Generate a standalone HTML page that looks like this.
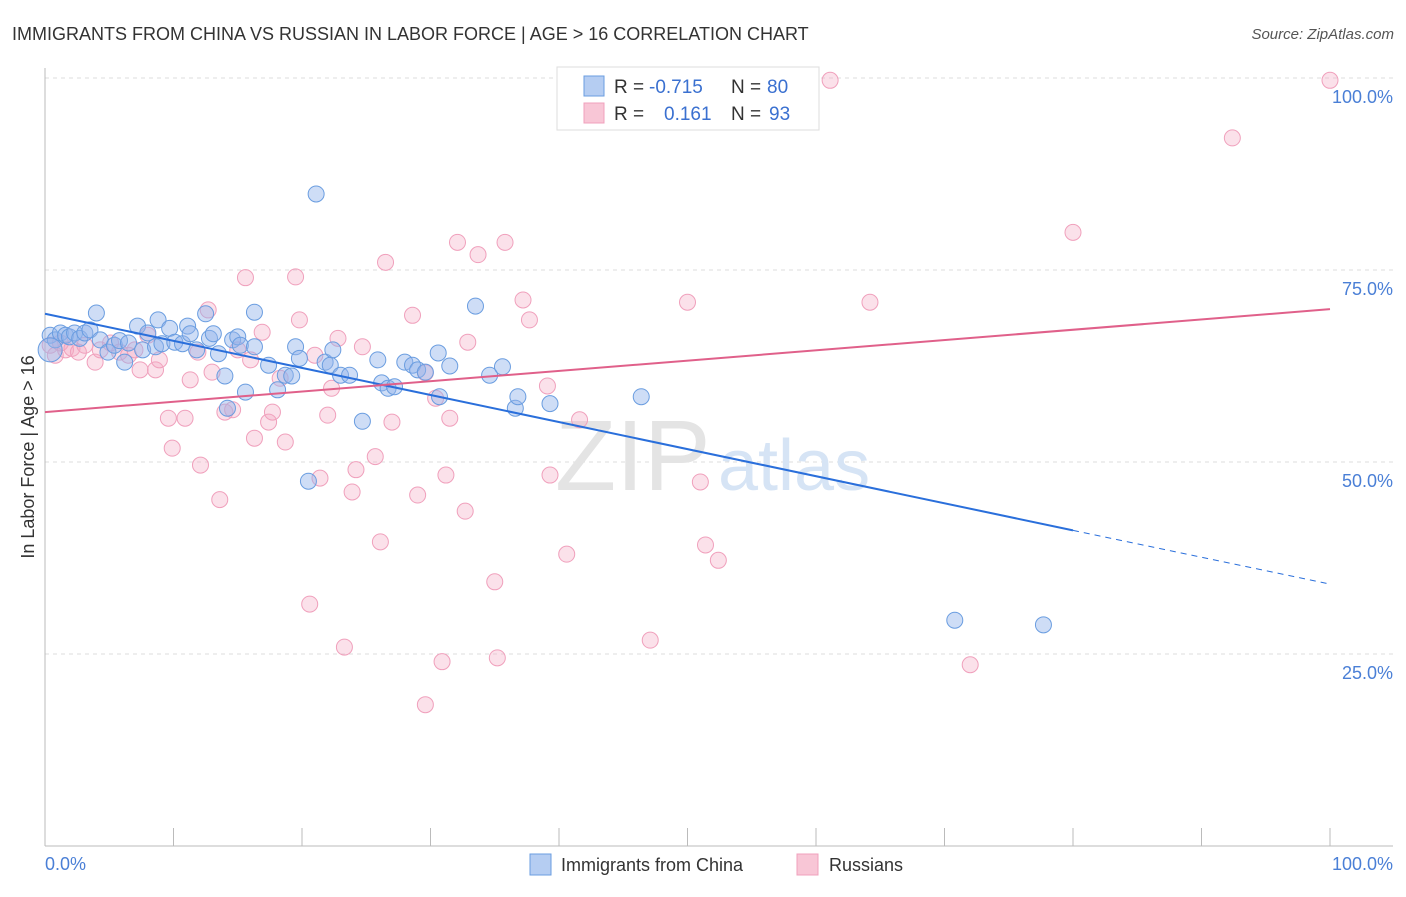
<!DOCTYPE html>
<html><head><meta charset="utf-8"><style>
body{margin:0;background:#fff;font-family:"Liberation Sans",sans-serif}
svg text{font-family:"Liberation Sans",sans-serif}
</style></head><body>
<svg id="chart" width="1406" height="892" viewBox="0 0 1406 892">
<text x="12" y="40" font-size="18" fill="#333">IMMIGRANTS FROM CHINA VS RUSSIAN IN LABOR FORCE | AGE &gt; 16 CORRELATION CHART</text>
<text x="1394" y="39" font-size="15" fill="#555" text-anchor="end" font-style="italic">Source: ZipAtlas.com</text>
<g id="grid"></g>
<g id="axes"></g>
<text x="555" y="490" font-size="100" fill="#e4e4e4" font-family="Liberation Serif">ZIP</text>
<text x="718" y="490" font-size="72" fill="#d6e4f5">atlas</text>
<g id="pts"></g>
<g id="lines"></g>
<text transform="translate(34,457) rotate(-90)" font-size="18" fill="#333" text-anchor="middle">In Labor Force | Age &gt; 16</text>
<text x="45" y="870" font-size="18" fill="#4a7fd6">0.0%</text>
<text x="1393" y="870" font-size="18" fill="#4a7fd6" text-anchor="end">100.0%</text>
<g>
<rect x="557" y="67" width="262" height="63" fill="#fff" stroke="#ddd"/>
<rect x="584" y="76" width="20" height="20" fill="#b5cdf2" stroke="#6a9de0"/>
<rect x="584" y="103" width="20" height="20" fill="#f8c6d6" stroke="#f0a0bc"/>
<text x="614" y="93" font-size="19" fill="#333">R =</text>
<text x="649" y="93" font-size="19" fill="#3a70d0">-0.715</text>
<text x="731" y="93" font-size="19" fill="#333">N =</text>
<text x="767" y="93" font-size="19" fill="#3a70d0">80</text>
<text x="614" y="120" font-size="19" fill="#333">R =</text>
<text x="664" y="120" font-size="19" fill="#3a70d0">0.161</text>
<text x="731" y="120" font-size="19" fill="#333">N =</text>
<text x="769" y="120" font-size="19" fill="#3a70d0">93</text>
</g>
<g>
<rect x="530" y="854" width="21" height="21" fill="#b5cdf2" stroke="#6a9de0"/>
<text x="561" y="871" font-size="18" fill="#333">Immigrants from China</text>
<rect x="797" y="854" width="21" height="21" fill="#f8c6d6" stroke="#f0a0bc"/>
<text x="829" y="871" font-size="18" fill="#333">Russians</text>
</g>
</svg>
<script>
const blueX=[0.4,0.8,1.2,1.6,1.9,2.3,2.7,3.1,3.5,4.0,4.3,4.9,5.4,5.8,6.2,6.5,7.2,7.6,8.0,8.6,8.8,9.1,9.7,10.1,10.7,11.1,11.3,11.8,12.5,12.8,13.1,13.5,14.0,14.6,15.0,15.2,15.6,16.3,16.3,17.4,18.1,18.7,19.2,19.5,19.8,20.5,21.1,21.8,22.2,22.4,23.0,23.7,24.7,25.9,26.2,26.7,27.2,28.0,28.6,29.0,29.6,30.6,30.7,31.5,33.5,34.6,35.6,36.6,36.8,39.3,46.4,70.8,77.7,14.2,0.4];
const blueY=[66.5,65.9,66.8,66.5,66.3,66.8,66.1,66.8,67.2,69.4,65.9,64.3,65.2,65.8,63.0,65.5,67.7,64.6,66.8,65.0,68.5,65.4,67.4,65.6,65.4,67.7,66.7,64.6,69.3,66.1,66.7,64.1,61.2,65.9,66.3,65.2,59.1,69.5,65.0,62.6,59.4,61.3,61.2,65.0,63.5,47.5,84.9,63.0,62.6,64.6,61.3,61.3,55.3,63.3,60.3,59.6,59.8,63.0,62.6,62.0,61.7,64.2,58.5,62.5,70.3,61.3,62.4,57.0,58.5,57.6,58.5,29.4,28.8,57.0,64.6];
const pinkX=[0.4,0.8,1.2,1.6,2.1,2.6,3.1,3.9,4.3,5.1,5.8,6.5,7.0,7.4,8.0,8.6,8.9,9.6,9.9,10.9,11.3,12.1,11.9,12.7,13.0,13.6,14.0,14.6,15.0,15.6,16.0,16.3,16.9,17.4,17.7,18.3,18.7,19.5,19.8,20.6,21.0,21.4,22.0,22.3,22.8,23.3,23.9,24.2,24.7,25.7,26.1,26.5,27.0,28.6,29.0,29.6,30.4,31.2,31.5,30.9,29.6,32.1,32.7,32.9,33.7,35.0,35.2,35.8,37.2,37.7,39.1,39.3,40.6,41.6,47.1,50.0,51.0,51.4,52.4,59.3,61.1,64.2,72.0,80.0,92.4,100];
const pinkY=[65.2,63.9,65.5,64.6,64.8,64.3,65.2,63.0,64.6,65.5,64.3,63.9,64.6,62.0,66.5,62.0,63.3,55.7,51.8,55.7,60.7,49.6,64.3,69.8,61.7,45.1,56.5,56.8,64.6,74.0,63.3,53.1,66.9,55.2,56.5,60.9,52.6,74.1,68.5,31.5,63.9,47.9,56.1,59.6,66.1,25.9,46.1,49.0,65.0,50.7,39.6,76.0,55.2,69.1,45.7,61.6,58.3,48.3,55.7,24.0,18.4,78.6,43.6,65.6,77.0,34.4,24.5,78.6,71.1,68.5,59.9,48.3,38.0,55.5,26.8,70.8,47.4,39.2,37.2,99.7,99.7,70.8,23.6,79.9,92.2,99.7];
const yTicks=[25,50,75,100];
const yTickLabels=["25.0%","50.0%","75.0%","100.0%"];
const xTicks=[10,20,30,40,50,60,70,80,90,100];
const blueLine=[69.3,41.1,34.1]; // y at x=0, 80, 100
const pinkLine=[56.5,69.9]; // y at x=0, 100

const NS="http://www.w3.org/2000/svg";
const sx=v=>45+v*12.85, sy=v=>846-v*7.68;
function mk(tag,attrs,parent){const e=document.createElementNS(NS,tag);for(const k in attrs)e.setAttribute(k,attrs[k]);parent.appendChild(e);return e;}
const grid=document.getElementById('grid'),axes=document.getElementById('axes'),pts=document.getElementById('pts'),lines=document.getElementById('lines');
yTicks.forEach((t,i)=>{
  const g=mk('line',{x1:45,x2:1393,y1:sy(t),y2:sy(t),stroke:'#ddd','stroke-dasharray':'4,4'},grid);
  
  
  const tx=mk('text',{x:1393,y:sy(t)+25,'font-size':18,fill:'#4a7fd6','text-anchor':'end'},grid);
  tx.textContent=yTickLabels[i];
  
  
});
let a=mk('line',{x1:45,x2:45,y1:68,y2:846,stroke:'#bbb'},axes);


a=mk('line',{x1:45,x2:1393,y1:846,y2:846,stroke:'#bbb'},axes);


xTicks.forEach(t=>{
  const l=mk('line',{x1:sx(t),x2:sx(t),y1:828,y2:846,stroke:'#bbb'},axes);
  
  
});
pinkX.forEach((x,i)=>{
  const c=mk('circle',{cx:sx(x),cy:sy(pinkY[i]),r:8,fill:'rgba(244,170,195,0.35)',stroke:'#f0a0bc','stroke-width':1},pts);
  
  
});
blueX.forEach((x,i)=>{
  const c=mk('circle',{cx:sx(x),cy:sy(blueY[i]),r:(i===blueX.length-1?12:8),fill:'rgba(147,180,235,0.45)',stroke:'#6a9de0','stroke-width':1},pts);
  
  
});
let l=mk('line',{x1:sx(0),y1:sy(blueLine[0]),x2:sx(80),y2:sy(blueLine[1]),stroke:'#2a6fdb','stroke-width':2},lines);


l=mk('line',{x1:sx(80),y1:sy(blueLine[1]),x2:sx(100),y2:sy(blueLine[2]),stroke:'#2a6fdb','stroke-width':1,'stroke-dasharray':'6,5'},lines);


l=mk('line',{x1:sx(0),y1:sy(pinkLine[0]),x2:sx(100),y2:sy(pinkLine[1]),stroke:'#e0608a','stroke-width':2},lines);


</script>
</body></html>
